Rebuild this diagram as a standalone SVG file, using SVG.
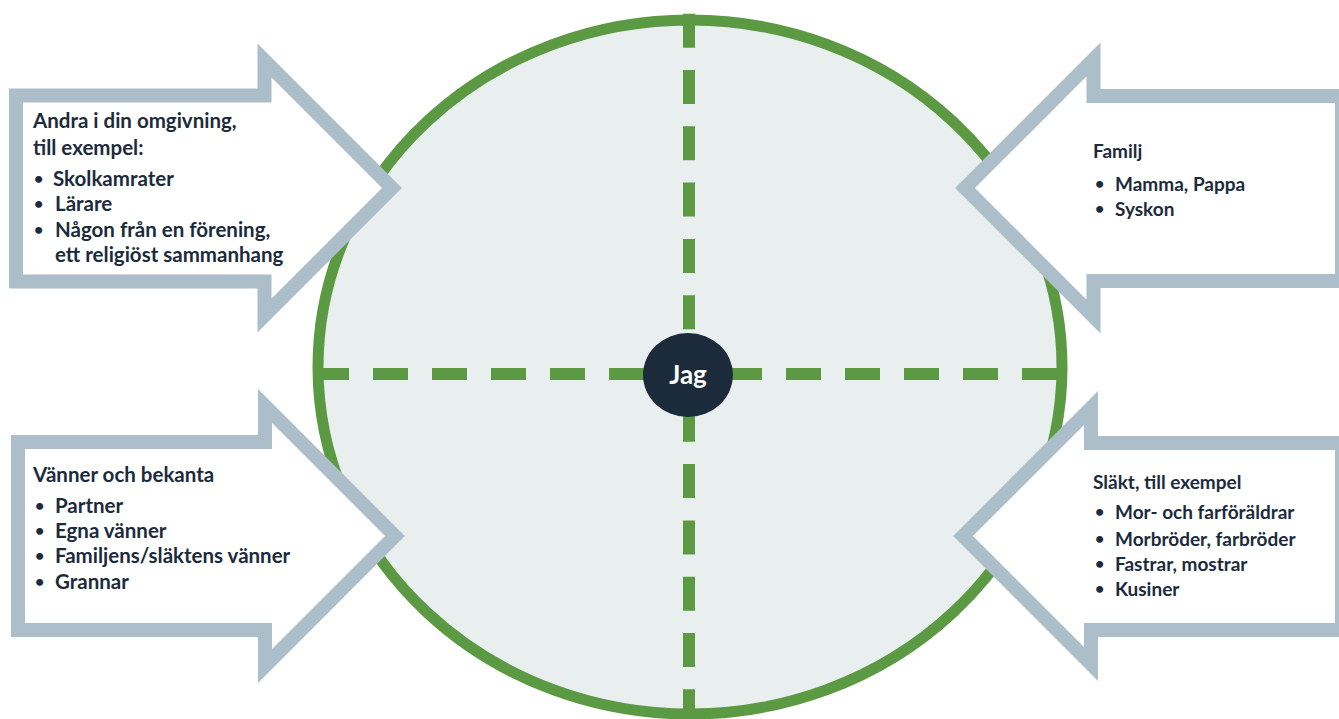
<svg xmlns="http://www.w3.org/2000/svg" width="1339" height="719" viewBox="0 0 1339 719">
  <style>
    .ring { fill: #e9efef; stroke: #5b9a42; stroke-width: 11; }
    .dash { fill: none; stroke: #5b9a42; stroke-width: 12; }
    .arrow { fill: #ffffff; stroke: #adbecb; stroke-width: 14; stroke-linejoin: miter; }
    .txt { font-family: Lato, "Liberation Sans", sans-serif; font-weight: 700; font-size: 20.5px; fill: #1c2b3c; }
    .txt-r { font-size: 19px; }
    .dot { font-size: 16px; }
    .hub { fill: #1c2b3c; }
    .hub-label { font-family: Lato, "Liberation Sans", sans-serif; font-weight: 700; font-size: 26px; fill: #ffffff; }
  </style>

  <rect width="1339" height="719" fill="#ffffff"/>

  <!-- outer circle of the network -->
  <g id="ring">
    <ellipse class="ring" cx="690" cy="367" rx="372" ry="347"/>
  </g>

  <!-- dashed axes dividing the four sectors -->
  <g id="connectors">
    <line class="dash" x1="314" y1="374" x2="1062" y2="374" stroke-dasharray="35 24"/>
    <line class="dash" x1="689" y1="13.7" x2="689" y2="716" stroke-dasharray="34 22.3"/>
  </g>

  <!-- centre: the person -->
  <g id="jag">
    <ellipse class="hub" cx="688" cy="375" rx="45" ry="42"/>
    <text class="hub-label" x="688" y="384" text-anchor="middle">Jag</text>
  </g>

  <!-- upper left: others around you -->
  <g id="arrow-omgivning">
    <polygon class="arrow" points="16,95.5 264.5,95.5 264.5,60.5 392,188 264.5,315.5 264.5,281.5 16,281.5"/>
    <text class="txt" x="33" y="128">Andra i din omgivning,</text>
    <text class="txt" x="33" y="155">till exempel:</text>
    <text class="txt" y="186"><tspan class="dot" x="34" dy="-2">•</tspan><tspan x="53" dy="2">Skolkamrater</tspan></text>
    <text class="txt" y="211"><tspan class="dot" x="34" dy="-2">•</tspan><tspan x="55" dy="2">Lärare</tspan></text>
    <text class="txt" y="237"><tspan class="dot" x="34" dy="-2">•</tspan><tspan x="55" dy="2">Någon från en förening,</tspan></text>
    <text class="txt" x="55" y="262">ett religiöst sammanhang</text>
  </g>

  <!-- upper right: family -->
  <g id="arrow-familj">
    <polygon class="arrow" points="1342,96 1093.5,96 1093.5,59.5 965,188 1093.5,316.5 1093.5,281 1342,281"/>
    <text class="txt txt-r" x="1093" y="158">Familj</text>
    <text class="txt txt-r" y="191"><tspan class="dot" x="1095" dy="-2">•</tspan><tspan x="1115" dy="2">Mamma, Pappa</tspan></text>
    <text class="txt txt-r" y="216"><tspan class="dot" x="1095" dy="-2">•</tspan><tspan x="1115" dy="2">Syskon</tspan></text>
  </g>

  <!-- lower left: friends and acquaintances -->
  <g id="arrow-vanner">
    <polygon class="arrow" points="18,442 265,442 265,406 395,536 265,666 265,630 18,630"/>
    <text class="txt" x="33" y="482">Vänner och bekanta</text>
    <text class="txt" y="513"><tspan class="dot" x="35" dy="-2">•</tspan><tspan x="55" dy="2">Partner</tspan></text>
    <text class="txt" y="538"><tspan class="dot" x="35" dy="-2">•</tspan><tspan x="55" dy="2">Egna vänner</tspan></text>
    <text class="txt" y="563"><tspan class="dot" x="35" dy="-2">•</tspan><tspan x="55" dy="2">Familjens/släktens vänner</tspan></text>
    <text class="txt" y="589"><tspan class="dot" x="35" dy="-2">•</tspan><tspan x="55" dy="2">Grannar</tspan></text>
  </g>

  <!-- lower right: relatives -->
  <g id="arrow-slakt">
    <polygon class="arrow" points="1342,443 1091,443 1091,408 963,536 1091,664 1091,630 1342,630"/>
    <text class="txt txt-r" x="1093" y="489">Släkt, till exempel</text>
    <text class="txt txt-r" y="519"><tspan class="dot" x="1095" dy="-2">•</tspan><tspan x="1115" dy="2">Mor- och farföräldrar</tspan></text>
    <text class="txt txt-r" y="546"><tspan class="dot" x="1095" dy="-2">•</tspan><tspan x="1115" dy="2">Morbröder, farbröder</tspan></text>
    <text class="txt txt-r" y="571"><tspan class="dot" x="1095" dy="-2">•</tspan><tspan x="1115" dy="2">Fastrar, mostrar</tspan></text>
    <text class="txt txt-r" y="596"><tspan class="dot" x="1095" dy="-2">•</tspan><tspan x="1115" dy="2">Kusiner</tspan></text>
  </g>
</svg>
